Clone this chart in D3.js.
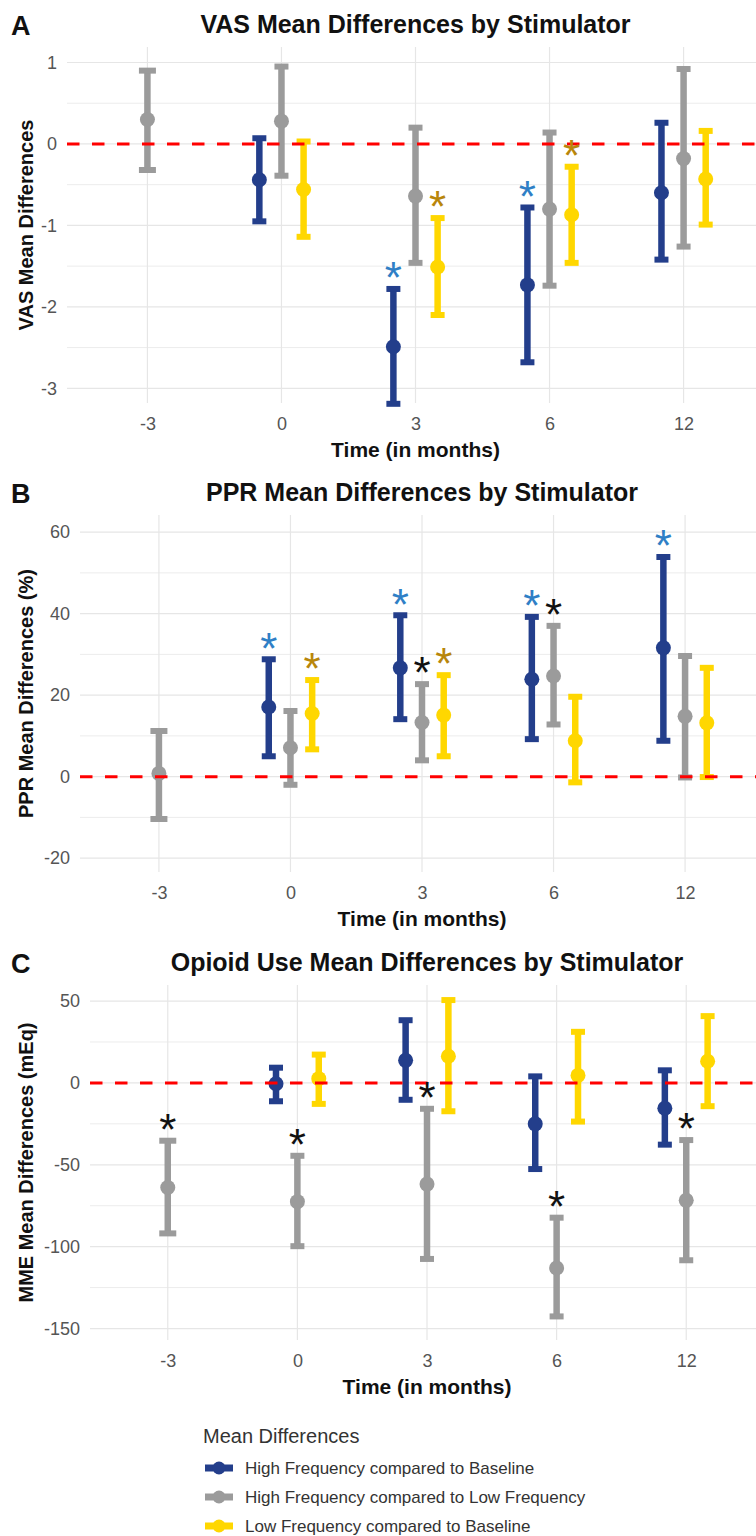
<!DOCTYPE html>
<html>
<head>
<meta charset="utf-8">
<script src="https://cdn.jsdelivr.net/npm/d3@7"></script>
<style>
  body { margin: 0; background: #fff; }
  text { font-family: "Liberation Sans", Arial, sans-serif; }
</style>
</head>
<body>
<div id="chart"></div>
<script>
const times = ["-3", "0", "3", "6", "12"];
const groups = [
  "High Frequency compared to Baseline",
  "High Frequency compared to Low Frequency",
  "Low Frequency compared to Baseline"
];
const groupColors = ["#233e8b", "#9b9b9b", "#ffd700"];
const starColors = ["#2f7fc6", "#111111", "#b8860b"];

// [mean, lower, upper] for each time point, null where not measured
const vasHB = [null, [-0.44, -0.95, 0.07], [-2.49, -3.19, -1.78], [-1.73, -2.68, -0.78], [-0.60, -1.42, 0.26]];
const vasHL = [[0.30, -0.32, 0.90], [0.28, -0.39, 0.95], [-0.64, -1.46, 0.20], [-0.80, -1.74, 0.14], [-0.18, -1.26, 0.92]];
const vasLB = [null, [-0.56, -1.14, 0.03], [-1.51, -2.10, -0.91], [-0.87, -1.46, -0.28], [-0.43, -0.99, 0.16]];
const vasStars = [["3", "6"], [], ["3", "6"]];
const vasTicks = [-3, -2, -1, 0, 1];

const pprHB = [null, [17.1, 5.0, 28.8], [26.7, 14.1, 39.6], [23.9, 9.2, 39.2], [31.6, 8.8, 53.9]];
const pprHL = [[0.8, -10.4, 11.2], [7.1, -2.0, 16.1], [13.3, 4.0, 22.7], [24.7, 12.8, 37.0], [14.8, -0.2, 29.6]];
const pprLB = [null, [15.5, 6.7, 23.7], [15.1, 5.0, 24.9], [8.8, -1.4, 19.6], [13.2, -0.1, 26.7]];
const pprStars = [["0", "3", "6", "12"], ["3", "6"], ["0", "3"]];
const pprTicks = [-20, 0, 20, 40, 60];

const mmeHB = [null, [-0.5, -11.2, 9.3], [13.8, -10.3, 38.3], [-25.0, -52.6, 4.0], [-15.5, -37.7, 7.7]];
const mmeHL = [[-63.9, -91.9, -35.3], [-72.5, -99.7, -44.5], [-61.8, -107.5, -15.8], [-113.0, -142.6, -82.3], [-71.7, -108.3, -34.9]];
const mmeLB = [null, [2.6, -12.8, 17.3], [16.3, -17.3, 50.6], [4.6, -23.6, 31.2], [13.2, -14.2, 40.8]];
const mmeStars = [[], ["-3", "0", "3", "6", "12"], []];
const mmeTicks = [-150, -100, -50, 0, 50];

const width = 756, height = 1536, rightEdge = 764;

const panels = [
  { letter: "A", title: "VAS Mean Differences by Stimulator", ytitle: "VAS Mean Differences",
    series: [vasHB, vasHL, vasLB], stars: vasStars, ticks: vasTicks,
    left: 67, top: 47, bottom: 403, ydom: [-3.18, 1.19] },
  { letter: "B", title: "PPR Mean Differences by Stimulator", ytitle: "PPR Mean Differences (%)",
    series: [pprHB, pprHL, pprLB], stars: pprStars, ticks: pprTicks,
    left: 80, top: 515, bottom: 872, ydom: [-23.4, 64.2] },
  { letter: "C", title: "Opioid Use Mean Differences by Stimulator", ytitle: "MME Mean Differences (mEq)",
    series: [mmeHB, mmeHL, mmeLB], stars: mmeStars, ticks: mmeTicks,
    left: 90, top: 985, bottom: 1340, ydom: [-157, 59.8] }
];

const svg = d3.select("#chart").append("svg")
  .attr("width", width)
  .attr("height", height);

const stemW = 6.5, capH = 6, pointR = 7.5, starSize = 44;

panels.forEach(p => {
  const x = d3.scalePoint().domain(times).range([p.left, rightEdge]).padding(0.6);
  const y = d3.scaleLinear().domain(p.ydom).range([p.bottom, p.top]);
  const dodge = x.step() * 0.165;
  const offsets = [-dodge, 0, dodge];
  const g = svg.append("g");

  // minor + major horizontal grid
  const minor = d3.pairs(p.ticks).map(d => (d[0] + d[1]) / 2);
  g.selectAll(".minor").data(minor).enter().append("line")
    .attr("x1", p.left).attr("x2", rightEdge)
    .attr("y1", d => y(d)).attr("y2", d => y(d))
    .attr("stroke", "#ececec").attr("stroke-width", 1);
  g.selectAll(".major").data(p.ticks).enter().append("line")
    .attr("x1", p.left).attr("x2", rightEdge)
    .attr("y1", d => y(d)).attr("y2", d => y(d))
    .attr("stroke", "#e6e6e6").attr("stroke-width", 1.2);
  g.selectAll(".vgrid").data(times).enter().append("line")
    .attr("x1", d => x(d)).attr("x2", d => x(d))
    .attr("y1", p.top).attr("y2", p.bottom)
    .attr("stroke", "#e6e6e6").attr("stroke-width", 1.2);

  // axes (labels only)
  const yAxis = g.append("g").attr("transform", "translate(" + p.left + ",0)")
    .call(d3.axisLeft(y).tickValues(p.ticks).tickFormat(d => String(d)).tickSize(0).tickPadding(10));
  yAxis.select(".domain").remove();
  yAxis.selectAll("text").attr("font-size", 18).attr("fill", "#555")
    .style("font-family", "'Liberation Sans', Arial, sans-serif");

  const xAxis = g.append("g").attr("transform", "translate(0," + p.bottom + ")")
    .call(d3.axisBottom(x).tickSize(0).tickPadding(14));
  xAxis.select(".domain").remove();
  xAxis.selectAll("text").attr("font-size", 18).attr("fill", "#555")
    .style("font-family", "'Liberation Sans', Arial, sans-serif");

  // error bars
  p.series.forEach((s, gi) => {
    const rows = s.map((d, i) => d ? { t: times[i], i: i, m: d[0], lo: d[1], hi: d[2] } : null).filter(d => d);
    const nAt = i => p.series.filter(ss => ss[i]).length;
    const cx = d => x(d.t) + (nAt(d.i) > 1 ? offsets[gi] : 0);
    const capW = d => nAt(d.i) > 1 ? 14 : 17;
    const eb = g.append("g");
    eb.selectAll(".stem").data(rows).enter().append("line")
      .attr("x1", cx).attr("x2", cx)
      .attr("y1", d => y(d.lo)).attr("y2", d => y(d.hi))
      .attr("stroke", groupColors[gi]).attr("stroke-width", stemW);
    ["lo", "hi"].forEach(k => {
      eb.selectAll(".cap-" + k).data(rows).enter().append("line")
        .attr("x1", d => cx(d) - capW(d) / 2).attr("x2", d => cx(d) + capW(d) / 2)
        .attr("y1", d => y(d[k])).attr("y2", d => y(d[k]))
        .attr("stroke", groupColors[gi]).attr("stroke-width", capH);
    });
    eb.selectAll("circle").data(rows).enter().append("circle")
      .attr("cx", cx).attr("cy", d => y(d.m)).attr("r", pointR)
      .attr("fill", groupColors[gi]);
    p.stars[gi].forEach(t => {
      const d = rows.find(r => r.t === t);
      g.append("text").attr("class", "star")
        .attr("x", cx(d)).attr("y", y(d.hi) - 21 + 0.575 * starSize)
        .attr("text-anchor", "middle")
        .attr("font-size", starSize)
        .attr("fill", starColors[gi])
        .text("*");
    });
  });

  // reference line at zero
  g.append("line")
    .attr("x1", p.left).attr("x2", rightEdge)
    .attr("y1", y(0)).attr("y2", y(0))
    .attr("stroke", "#ff0000").attr("stroke-width", 3)
    .attr("stroke-dasharray", "12.5,12.5");
  g.selectAll(".star").raise();

  // titles
  const cxPanel = (p.left + rightEdge) / 2;
  g.append("text").attr("x", 11).attr("y", p.top - 12)
    .attr("font-size", 27).attr("font-weight", "bold").attr("fill", "#111").text(p.letter);
  g.append("text").attr("x", cxPanel).attr("y", p.top - 14)
    .attr("text-anchor", "middle").attr("font-size", 25).attr("font-weight", "bold")
    .attr("fill", "#111").text(p.title);
  g.append("text").attr("x", cxPanel).attr("y", p.bottom + 54)
    .attr("text-anchor", "middle").attr("font-size", 21).attr("font-weight", "bold")
    .attr("fill", "#111").text("Time (in months)");
  g.append("text")
    .attr("transform", "translate(33," + (p.top + p.bottom) / 2 + ") rotate(-90)")
    .attr("text-anchor", "middle").attr("font-size", 20).attr("font-weight", "bold")
    .attr("fill", "#111").text(p.ytitle);
});

// legend
const legend = svg.append("g");
legend.append("text").attr("x", 203).attr("y", 1443)
  .attr("font-size", 20).attr("fill", "#333").text("Mean Differences");
groups.forEach((name, i) => {
  const ly = 1468 + i * 29;
  legend.append("line").attr("x1", 205).attr("x2", 233).attr("y1", ly).attr("y2", ly)
    .attr("stroke", groupColors[i]).attr("stroke-width", 7);
  legend.append("circle").attr("cx", 219).attr("cy", ly).attr("r", 6.5).attr("fill", groupColors[i]);
  legend.append("text").attr("x", 245).attr("y", ly + 6)
    .attr("font-size", 17).attr("fill", "#333").text(name);
});
</script>
</body>
</html>
